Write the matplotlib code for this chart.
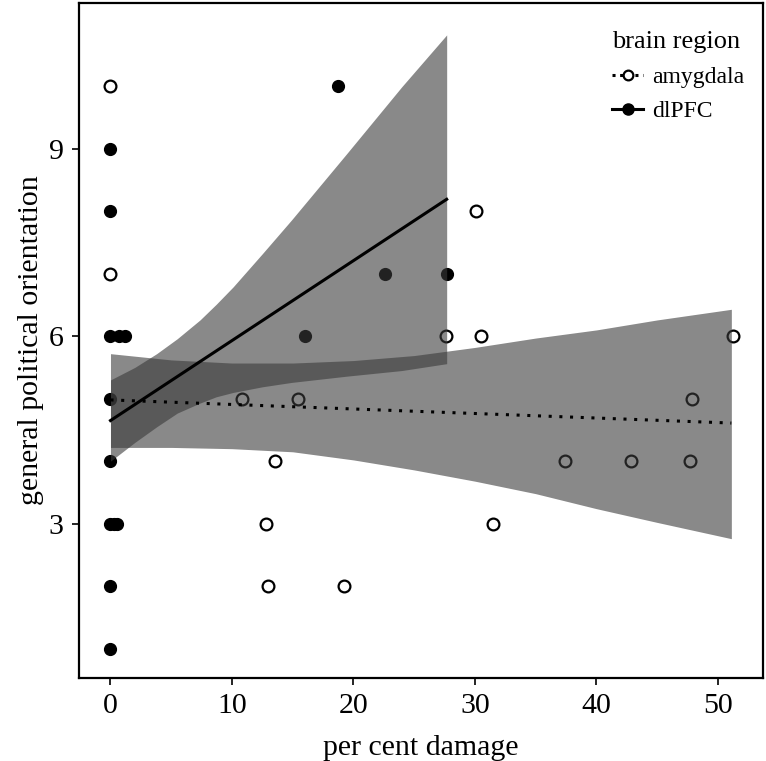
import matplotlib.pyplot as plt
from matplotlib.lines import Line2D

plt.rcParams['font.family'] = ['Liberation Serif', 'DejaVu Serif']

# amygdala patients (open circles)
amy_x = [0, 0, 10.8, 15.4, 13.5, 12.8, 13.0, 19.2, 27.6, 30.5, 30.1, 31.5, 37.4, 42.8, 47.7, 47.9, 51.2]
amy_y = [10, 7, 5, 5, 4, 3, 2, 2, 6, 6, 8, 3, 4, 4, 4, 5, 6]

# dlPFC patients (filled circles)
dl_x = [0, 0, 0, 0, 0, 0, 0, 0, 0.7, 1.2, 0.3, 0.5, 16.0, 18.7, 22.6, 27.7]
dl_y = [9, 8, 6, 5, 4, 3, 2, 1, 6, 6, 3, 3, 6, 10, 7, 7]

# fitted lines (end points)
amy_fit_x = [0, 51.1]
amy_fit_y = [4.98, 4.61]
dl_fit_x = [0, 27.67]
dl_fit_y = [4.65, 8.19]

# confidence bands
amy_band_x = [0, 5, 10, 15, 20, 25, 30, 35, 40, 45, 51.1]
amy_band_hi = [5.72, 5.62, 5.57, 5.57, 5.61, 5.69, 5.82, 5.97, 6.10, 6.26, 6.43]
amy_band_lo = [4.22, 4.22, 4.20, 4.15, 4.02, 3.86, 3.68, 3.48, 3.24, 3.02, 2.76]

dl_band_x = [0, 2, 3.8, 5.5, 7.37, 8.7, 10.1, 12.5, 14.9, 19.44, 23.97, 27.67]
dl_band_hi = [5.30, 5.50, 5.72, 5.96, 6.26, 6.51, 6.79, 7.32, 7.86, 8.92, 9.99, 10.82]
dl_band_lo = [4.00, 4.30, 4.55, 4.77, 4.93, 5.03, 5.10, 5.19, 5.26, 5.36, 5.45, 5.56]

fig = plt.figure(figsize=(7.66, 7.61), dpi=100)
ax = fig.add_axes([0.103, 0.109, 0.893, 0.887])

ax.scatter(amy_x, amy_y, s=72, facecolors='white', edgecolors='black', linewidths=1.6, zorder=2)
ax.scatter(dl_x, dl_y, s=72, color='black', zorder=2)

ax.fill_between(amy_band_x, amy_band_lo, amy_band_hi, color='#3a3a3a', alpha=0.6, lw=0, zorder=3)
ax.fill_between(dl_band_x, dl_band_lo, dl_band_hi, color='#3a3a3a', alpha=0.6, lw=0, zorder=3)

ax.plot(amy_fit_x, amy_fit_y, color='black', lw=2.2, ls=(0, (1, 2.5)), zorder=4)
ax.plot(dl_fit_x, dl_fit_y, color='black', lw=2.2, zorder=4)

ax.set_xlim(-2.6, 53.7)
ax.set_ylim(0.53, 11.33)
ax.set_xticks([0, 10, 20, 30, 40, 50])
ax.set_yticks([3, 6, 9])
ax.tick_params(direction='out', length=5, width=1.2, labelsize=21.5, colors='black', pad=6)
for s in ax.spines.values():
    s.set_linewidth(1.6)
    s.set_color('black')

ax.set_xlabel('per cent damage', fontsize=21.5, labelpad=11)
ax.set_ylabel('general political orientation', fontsize=21.5, labelpad=3)

handles = [
    Line2D([], [], color='black', lw=2.2, ls=(0, (1, 1.5)), marker='o', ms=7,
           mfc='white', mec='black', mew=1.6),
    Line2D([], [], color='black', lw=2.2, marker='o', ms=8, mfc='black', mec='black'),
]
leg = ax.legend(handles, ['amygdala', 'dlPFC'], title='brain region', loc='upper left',
                bbox_to_anchor=(0.78, 0.958), frameon=False, fontsize=17, title_fontsize=19,
                handlelength=1.3, handletextpad=0.4, labelspacing=0.55, borderpad=0,
                borderaxespad=0)
leg._legend_box.align = 'left'

fig.savefig('out.png', dpi=100)
